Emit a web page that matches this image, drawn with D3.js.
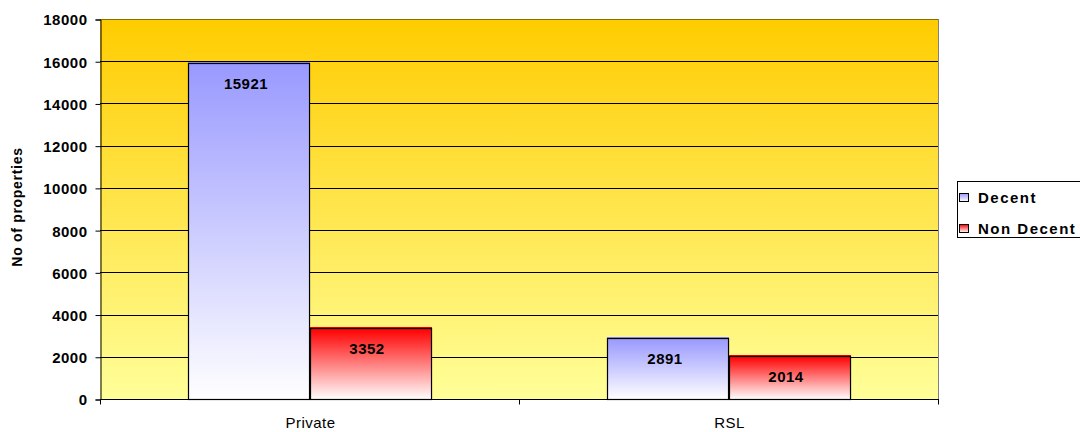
<!DOCTYPE html>
<html><head><meta charset="utf-8">
<script src="https://cdn.jsdelivr.net/npm/d3@7"></script>
<style>body{margin:0;background:#fff}svg{display:block}text{font-family:Arial,"Liberation Sans",sans-serif}</style>
</head><body><svg id="c" width="1080" height="432"></svg>
<script>
const categories = ["Private", "RSL"];
const seriesNames = ["Decent", "Non Decent"];
const decent = [15921, 2891];
const nonDecent = [3352, 2014];
const yTicks = [0, 2000, 4000, 6000, 8000, 10000, 12000, 14000, 16000, 18000];

const svg = d3.select("#c");
const L = 100, R = 938, T = 19, B = 399;
const x0 = d3.scaleBand().domain(categories).range([L, R]).padding(0);
const x1 = d3.scaleBand().domain(seriesNames).range([0, x0.bandwidth()]).paddingInner(0).paddingOuter(0.731);
const y = d3.scaleLinear().domain([0, 18000]).range([B, T]);

const defs = svg.append("defs");
function grad(id, top, bottom) {
  const g = defs.append("linearGradient").attr("id", id).attr("x1", 0).attr("y1", 0).attr("x2", 0).attr("y2", 1);
  g.append("stop").attr("offset", "0%").attr("stop-color", top);
  g.append("stop").attr("offset", "100%").attr("stop-color", bottom);
}
grad("bg", "#FFCC00", "#FFFF99");
grad("gDecent", "#9999FF", "#FFFFFF");
grad("gNon", "#FF0000", "#FFFFFF");
const fills = {"Decent": "url(#gDecent)", "Non Decent": "url(#gNon)"};
const tops = {"Decent": "#8080F0", "Non Decent": "#E00000"};

svg.append("rect").attr("x", L).attr("y", T).attr("width", R - L).attr("height", B - T).attr("fill", "url(#bg)");

// gridlines
svg.append("g").selectAll("line").data(yTicks.filter(d => d > 0)).join("line")
  .attr("x1", L).attr("x2", R).attr("y1", d => Math.round(y(d)) + 0.5).attr("y2", d => Math.round(y(d)) + 0.5)
  .attr("stroke", d => d === 18000 ? "#8a7000" : "#000").attr("stroke-width", 1);
// right border
svg.append("line").attr("x1", R + 0.5).attr("x2", R + 0.5).attr("y1", T).attr("y2", B).attr("stroke", "#808080");

// y axis
const yAxis = d3.axisLeft(y).tickValues(yTicks).tickSize(5).tickPadding(8).tickFormat(d3.format("d"));
const ya = svg.append("g").attr("transform", `translate(${L + 0.5},0.5)`).call(yAxis);
ya.select(".domain").attr("stroke", "#000");
ya.selectAll("text").attr("font-size", 15).attr("font-weight", "bold").attr("fill", "#000")
  .attr("letter-spacing", 0.5).attr("dy", "0.36em");

// x axis
const xa = svg.append("g").attr("transform", `translate(0,${B + 0.5})`);
xa.append("line").attr("x1", L).attr("x2", R + 1).attr("stroke", "#000");
const bounds = [L, L + x0.bandwidth(), R];
xa.selectAll("line.tk").data(bounds).join("line").attr("class", "tk")
  .attr("x1", d => d + 0.5).attr("x2", d => d + 0.5).attr("y1", 0).attr("y2", 5).attr("stroke", "#000");
xa.selectAll("text").data(categories).join("text")
  .attr("x", d => x0(d) + x0.bandwidth() / 2 + 1).attr("y", 28.5)
  .attr("text-anchor", "middle").attr("font-size", 15).attr("letter-spacing", 0.5).attr("fill", "#000").text(d => d);

// bars
const rows = categories.map((c, i) => ({cat: c, vals: [{s: "Decent", v: decent[i]}, {s: "Non Decent", v: nonDecent[i]}]}));
const g = svg.append("g").selectAll("g").data(rows).join("g").attr("transform", d => `translate(${x0(d.cat)},0)`);
const bar = g.selectAll("g").data(d => d.vals).join("g");
bar.append("rect")
  .attr("x", d => Math.round(x1(d.s)) + 0.5).attr("y", d => Math.round(y(d.v)) + 0.5)
  .attr("width", x1.bandwidth()).attr("height", d => B - Math.round(y(d.v)))
  .attr("fill", d => fills[d.s]).attr("stroke", "#000").attr("stroke-width", 1.2);
bar.append("line")
  .attr("x1", d => Math.round(x1(d.s))).attr("x2", d => Math.round(x1(d.s)) + x1.bandwidth() + 1)
  .attr("y1", d => Math.round(y(d.v)) - 0.5).attr("y2", d => Math.round(y(d.v)) - 0.5)
  .attr("stroke", d => tops[d.s]).attr("stroke-width", 1);
bar.append("text")
  .attr("x", d => x1(d.s) + x1.bandwidth() / 2 - 3).attr("y", d => y(d.v) + 26)
  .attr("text-anchor", "middle").attr("font-size", 15).attr("font-weight", "bold").attr("fill", "#000")
  .attr("letter-spacing", 0.5).text(d => d.v);

// y title
svg.append("text").attr("transform", `translate(22,${(T + B) / 2 - 2}) rotate(-90)`)
  .attr("text-anchor", "middle").attr("font-size", 14).attr("font-weight", "bold")
  .attr("letter-spacing", 0.7).text("No of properties");

// legend
const lg = svg.append("g");
lg.append("rect").attr("x", 957.5).attr("y", 181.5).attr("width", 140).attr("height", 56)
  .attr("fill", "#fff").attr("stroke", "#000");
const items = lg.selectAll("g").data(seriesNames).join("g")
  .attr("transform", (d, i) => `translate(959,${193 + i * 31})`);
items.append("rect").attr("x", 0.5).attr("y", 0.5).attr("width", 9).attr("height", 8)
  .attr("fill", d => fills[d]).attr("stroke", "#000");
items.append("text").attr("x", 19).attr("y", 9.5).attr("font-size", 15).attr("font-weight", "bold")
  .attr("letter-spacing", 1.5).text(d => d);
</script></body></html>
